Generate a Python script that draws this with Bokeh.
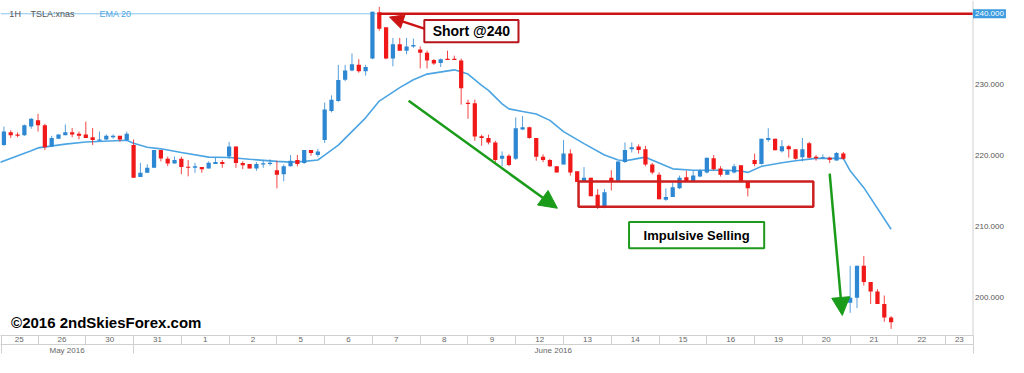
import numpy as np
from bokeh.plotting import figure
from bokeh.models import (Range1d, LinearAxis, FixedTicker, Span, Label, Arrow,
                          NormalHead, BoxAnnotation, ColumnDataSource)
from bokeh.embed import file_html
from bokeh.resources import INLINE

# ---------------- data (TSLA 1H) ----------------
opens = [221.5, 223.3, 223.0, 222.9, 224.1, 225.0, 224.3, 221.3, 222.4, 222.9,
         223.3, 223.1, 223.0, 222.6, 222.1, 222.3, 222.6, 222.8, 222.2, 221.5,
         217.0, 217.6, 218.3, 220.8, 219.56, 218.9, 219.56, 218.4, 218.3, 218.4,
         218.2, 218.85, 219.1, 219.9, 221.3, 218.97, 218.85, 218.2, 218.77, 218.85,
         217.96, 217.4, 218.5, 219.4, 218.97, 220.8, 220.1, 222.2, 226.3, 227.7,
         230.7, 232.0, 232.8, 231.9, 233.7, 240.2, 238.1, 233.7, 235.7, 234.8,
         235.4, 234.98, 234.5, 233.5, 233.07, 233.65, 233.65, 233.4, 227.4, 227.4,
         222.75, 222.5, 221.87, 219.56, 220.0, 219.56, 223.7, 224.0, 222.5, 219.87,
         219.4, 218.53, 218.76, 220.3, 217.8, 216.3, 216.9, 214.5, 212.8, 216.9,
         216.4, 219.1, 220.9, 221.3, 220.9, 218.76, 217.33, 213.78, 214.2, 215.43,
         216.97, 216.4, 217.07, 217.65, 219.65, 218.2, 217.33, 217.65, 218.67, 216.3,
         219.4, 218.85, 222.2, 222.4, 220.63, 221.33, 220.9, 219.8, 221.77, 219.87,
         219.65, 219.73, 219.33, 220.3, 199.3, 200.0, 204.5, 202.2, 200.87, 199.1,
         197.2]
highs = [224.1, 223.6, 223.3, 224.4, 225.3, 225.9, 224.5, 222.8, 223.0, 224.4,
         223.9, 223.4, 224.8, 223.9, 223.4, 223.0, 223.0, 222.8, 223.4, 222.3,
         219.0, 218.8, 220.8, 220.8, 219.87, 219.9, 219.87, 219.4, 219.0, 218.4,
         219.2, 219.7, 219.4, 221.96, 221.3, 219.2, 218.85, 219.1, 219.3, 219.5,
         219.3, 218.76, 220.1, 220.1, 220.8, 220.8, 220.97, 227.5, 228.5, 232.8,
         232.8, 234.4, 233.6, 232.8, 240.3, 240.97, 238.1, 236.6, 236.6, 236.6,
         236.5, 235.4, 234.8, 233.6, 233.7, 234.8, 234.1, 233.7, 227.9, 227.9,
         222.97, 222.97, 222.1, 220.6, 220.2, 225.4, 225.6, 224.1, 222.5, 220.2,
         219.56, 218.53, 222.2, 220.9, 217.8, 218.4, 216.9, 215.3, 215.3, 217.96,
         219.2, 221.87, 221.87, 221.6, 221.4, 218.97, 217.65, 215.4, 216.2, 217.2,
         217.87, 217.87, 218.1, 219.73, 220.1, 218.53, 217.96, 218.85, 218.67, 216.3,
         220.3, 222.4, 223.87, 222.4, 222.2, 221.5, 220.9, 222.5, 221.96, 220.1,
         220.2, 219.87, 220.53, 220.53, 204.5, 204.5, 205.87, 202.2, 201.2, 200.3,
         197.4]
lows = [221.4, 222.5, 222.6, 222.8, 223.8, 223.4, 220.8, 221.2, 222.4, 222.9,
        222.6, 222.3, 222.5, 221.5, 222.1, 222.2, 222.4, 221.96, 222.1, 216.9,
        217.0, 217.6, 218.3, 219.2, 218.53, 218.9, 217.4, 217.1, 217.6, 217.6,
        218.2, 218.85, 218.3, 219.56, 218.3, 218.1, 218.2, 217.87, 218.3, 218.6,
        215.4, 216.4, 218.5, 218.5, 218.85, 220.0, 219.87, 221.8, 226.1, 227.6,
        230.5, 231.9, 231.7, 231.3, 233.6, 237.6, 233.6, 232.6, 234.8, 234.3,
        235.2, 232.3, 232.3, 232.8, 232.5, 233.5, 233.5, 227.2, 225.2, 222.1,
        221.4, 221.6, 218.97, 218.53, 218.53, 219.4, 223.6, 222.4, 219.3, 219.1,
        218.4, 217.65, 218.76, 217.2, 216.3, 216.3, 214.3, 212.5, 212.6, 215.1,
        216.4, 218.97, 220.45, 220.3, 218.53, 217.4, 213.87, 213.65, 214.2, 215.3,
        216.3, 216.4, 216.97, 217.5, 217.96, 217.07, 217.33, 217.5, 216.45, 214.27,
        218.53, 218.76, 221.96, 220.76, 220.45, 219.73, 219.43, 219.2, 219.65, 219.3,
        219.56, 218.97, 219.3, 219.43, 197.87, 198.53, 201.7, 199.1, 199.1, 196.6,
        195.6]
closes = [223.4, 222.9, 222.8, 224.3, 225.2, 224.3, 221.2, 222.5, 223.0, 223.3,
          223.0, 222.8, 222.5, 222.2, 222.3, 222.8, 222.8, 222.3, 223.1, 216.9,
          217.6, 218.3, 220.8, 219.6, 218.89, 219.4, 218.4, 218.3, 218.5, 218.1,
          219.0, 219.1, 218.85, 221.3, 218.97, 218.67, 218.2, 218.85, 218.93, 219.0,
          217.33, 218.5, 219.3, 218.85, 220.8, 220.4, 220.6, 226.5, 227.9, 230.67,
          232.0, 232.9, 231.9, 232.5, 240.3, 237.9, 233.7, 235.7, 234.8, 235.4,
          235.6, 234.5, 233.4, 232.98, 233.6, 233.5, 233.5, 229.5, 227.3, 222.7,
          222.5, 221.87, 219.4, 220.0, 218.7, 223.87, 224.0, 222.5, 219.87, 219.4,
          218.53, 217.65, 220.3, 217.65, 216.3, 216.9, 214.3, 212.8, 214.85, 216.4,
          219.2, 220.8, 221.2, 220.8, 218.76, 217.65, 213.87, 214.2, 215.56, 216.9,
          216.4, 217.2, 217.87, 219.73, 218.1, 217.33, 217.96, 218.53, 216.45, 215.43,
          218.85, 222.4, 222.5, 220.76, 221.33, 220.9, 219.56, 220.9, 219.73, 219.65,
          219.73, 219.43, 220.4, 219.56, 200.0, 204.5, 202.2, 200.87, 199.1, 197.2,
          196.53]

# EMA 20 (bar index, value)
ema_bars = [-1, 4, 5, 9, 12, 18, 19, 21, 23, 26, 30, 33, 36, 40, 42, 44, 46, 47, 49,
            53, 55, 58, 60, 62, 66, 68, 70, 71, 73, 74, 76, 78, 80, 82, 85, 88, 90,
            91, 92, 94, 96, 98, 101, 103, 106, 108, 109, 111, 114, 116, 119, 123,
            124, 126, 130]
ema_vals = [218.9, 220.7, 221.1, 221.63, 221.93, 222.18, 221.75, 221.2, 220.97, 220.45,
            219.8, 219.74, 219.5, 219.2, 219.1, 219.2, 219.4, 220.08, 221.5,
            225.34, 227.7, 229.6, 230.7, 231.5, 232.1, 231.5, 229.9, 229.2, 227.3,
            226.6, 226.23, 225.87, 224.98, 223.4, 221.7, 220.1, 219.4,
            219.3, 219.45, 219.8, 218.98, 218.15, 217.96, 217.96, 217.96, 217.85,
            217.65, 218.5, 219.0, 219.3, 219.62, 219.64,
            217.87, 215.5, 209.64]

day_labels = ["25", "26", "30", "31", "1", "2", "5", "6", "7", "8", "9", "12",
              "13", "14", "15", "16", "19", "20", "21", "22", "23"]
month_labels = ["May 2016", "June 2016"]
price_ticks = [200, 210, 220, 230]
short_price = 240
bars_per_day = 7
first_day_start = 5     # first bar of the 2nd visible day
month_break_day = 3     # "31" begins the June block

# ---------------- layout constants ----------------
X0, XA, X1 = -0.5, 142.0, 147.2   # left edge, price-scale line, right edge
Y0, Y1 = 194.67, 241.87
BLUE = "#2d87d2"
RED = "#f01818"
EMA_C = "#4ca5e2"
FONT = "Liberation Sans"
GRAY = "#d0d0d0"

n = len(opens)
x = np.arange(n)
o = np.array(opens); c = np.array(closes)
up = c >= o
body_bot = np.minimum(o, c)
body_top = np.maximum(np.maximum(o, c), body_bot + 0.15)
colors = np.where(up, BLUE, RED)
src = ColumnDataSource(dict(x=x, h=highs, l=lows, top=body_top, bot=body_bot, color=colors))

p = figure(width=1008, height=357, x_range=Range1d(X0, X1), y_range=Range1d(Y0, Y1),
           output_backend="svg", toolbar_location=None, x_axis_location=None,
           y_axis_location=None, min_border_left=0, min_border_top=0,
           min_border_right=0, min_border_bottom=0)
p.outline_line_color = None
p.xgrid.grid_line_color = None
p.ygrid.grid_line_color = None
p.background_fill_color = "white"

# price scale (right)
p.add_layout(Span(location=XA, dimension="height", line_color=GRAY, line_width=1))
for t in price_ticks:
    p.add_layout(Label(x=XA, y=t, x_offset=2, text=f"{t:.3f}", text_baseline="middle",
                       text_align="left", text_font=FONT, text_font_size="8px",
                       text_color="#555555"))

# date axes
seps = [first_day_start + bars_per_day * k for k in range(len(day_labels) - 1)]
cells = [X0] + seps + [XA]
day_pos = [(cells[i] + cells[i + 1]) / 2 for i in range(len(day_labels))]
month_sep = seps[month_break_day - 1]
month_pos = [(X0 + month_sep) / 2, (month_sep + XA) / 2]

def style_axis(ax):
    ax.bounds = (X0, XA)
    ax.major_tick_line_color = None
    ax.major_tick_out = 0
    ax.major_tick_in = 0
    ax.minor_tick_in = 0
    ax.minor_tick_out = 9
    ax.minor_tick_line_color = GRAY
    ax.axis_line_color = GRAY
    ax.major_label_text_font_size = "8px"
    ax.major_label_text_color = "#666666"
    ax.major_label_text_font = FONT
    ax.major_label_standoff = -8

ax_day = LinearAxis(ticker=FixedTicker(ticks=day_pos, minor_ticks=[X0 + 0.1] + seps + [XA]),
                    major_label_overrides={pos: lab for pos, lab in zip(day_pos, day_labels)})
style_axis(ax_day)
ax_mon = LinearAxis(ticker=FixedTicker(ticks=month_pos, minor_ticks=[X0 + 0.1, month_sep, XA]),
                    major_label_overrides={pos: lab for pos, lab in zip(month_pos, month_labels)})
style_axis(ax_mon)
ax_end = LinearAxis(ticker=FixedTicker(ticks=[], minor_ticks=[]))
style_axis(ax_end)
ax_end.minor_tick_out = 0
ax_end.major_label_standoff = 0
p.add_layout(ax_day, "below")
p.add_layout(ax_mon, "below")
p.add_layout(ax_end, "below")

# 240 reference line (thin, whole chart)
p.segment(x0=[X0], y0=[short_price], x1=[XA], y1=[short_price],
          line_color="#8cc6ee", line_width=1)

# EMA
p.line(ema_bars, ema_vals, line_color=EMA_C, line_width=1.6)

# candles
p.segment(x0="x", y0="h", x1="x", y1="l", line_color="color", line_width=1,
          line_alpha=0.8, source=src)
p.vbar(x="x", width=0.62, top="top", bottom="bot", fill_color="color",
       line_color=None, source=src)

# short line from the entry bar
entry_bar = int(np.argmax(highs))
p.segment(x0=[entry_bar], y0=[short_price], x1=[XA], y1=[short_price],
          line_color="#cc1414", line_width=2.5)

# header texts
p.add_layout(Label(x=0.8, y=short_price, text="1H", text_baseline="middle",
                   text_font=FONT, text_font_size="9px", text_color="#555555"))
p.add_layout(Label(x=3.9, y=short_price, text="TSLA:xnas", text_baseline="middle",
                   text_font=FONT, text_font_size="9px", text_color="#555555"))
p.add_layout(Label(x=14.0, y=short_price, text="EMA 20", text_baseline="middle",
                   text_font=FONT, text_font_size="9px", text_color=EMA_C))

# price tag 240.000
p.add_layout(Label(x=XA, y=short_price, x_offset=0, text="240.000", text_baseline="middle",
                   text_align="left", text_font=FONT, text_font_size="8px",
                   text_color="white", background_fill_color="#3d9be0",
                   background_fill_alpha=1, padding=2))

# Short @240 annotation
p.add_layout(Arrow(end=NormalHead(size=14, fill_color="#cc1414", line_color="#cc1414"),
                   x_start=61.7, y_start=237.87, x_end=56.5, y_end=239.53,
                   line_color="#cc1414", line_width=2.5))
p.add_layout(BoxAnnotation(left=61.6, right=75.4, bottom=236.0, top=239.11,
                           fill_color="white", fill_alpha=1, line_color="#b8141b",
                           line_alpha=1, line_width=2))
p.add_layout(Label(x=68.5, y=237.55, text="Short @240", text_align="center",
                   text_baseline="middle", text_font=FONT, text_font_style="bold",
                   text_font_size="14px", text_color="black"))

# green arrows
GREEN = "#1a9c1a"
p.add_layout(Arrow(end=NormalHead(size=18, fill_color=GREEN, line_color=GREEN),
                   x_start=59.3, y_start=227.73, x_end=81.1, y_end=212.6,
                   line_color=GREEN, line_width=2.5))
p.add_layout(Arrow(end=NormalHead(size=18, fill_color=GREEN, line_color=GREEN),
                   x_start=121.0, y_start=217.47, x_end=122.85, y_end=197.5,
                   line_color=GREEN, line_width=2.5))

# red support box
p.add_layout(BoxAnnotation(left=84.2, right=118.6, bottom=212.8, top=216.36,
                           fill_alpha=0, line_color="#cc1f1f", line_alpha=1,
                           line_width=2.5))

# Impulsive selling box
p.add_layout(BoxAnnotation(left=91.6, right=111.4, bottom=206.97, top=210.67,
                           fill_color="white", fill_alpha=1, line_color="#1f9a1f",
                           line_alpha=1, line_width=2))
p.add_layout(Label(x=101.5, y=208.82, text="Impulsive Selling", text_align="center",
                   text_baseline="middle", text_font=FONT, text_font_style="bold",
                   text_font_size="13px", text_color="black"))

# copyright
p.add_layout(Label(x=1.05, y=196.44, text="©2016 2ndSkiesForex.com", text_baseline="middle",
                   text_font=FONT, text_font_style="bold", text_font_size="15px",
                   text_color="black"))

open("out.html", "w").write(file_html(p, INLINE))
